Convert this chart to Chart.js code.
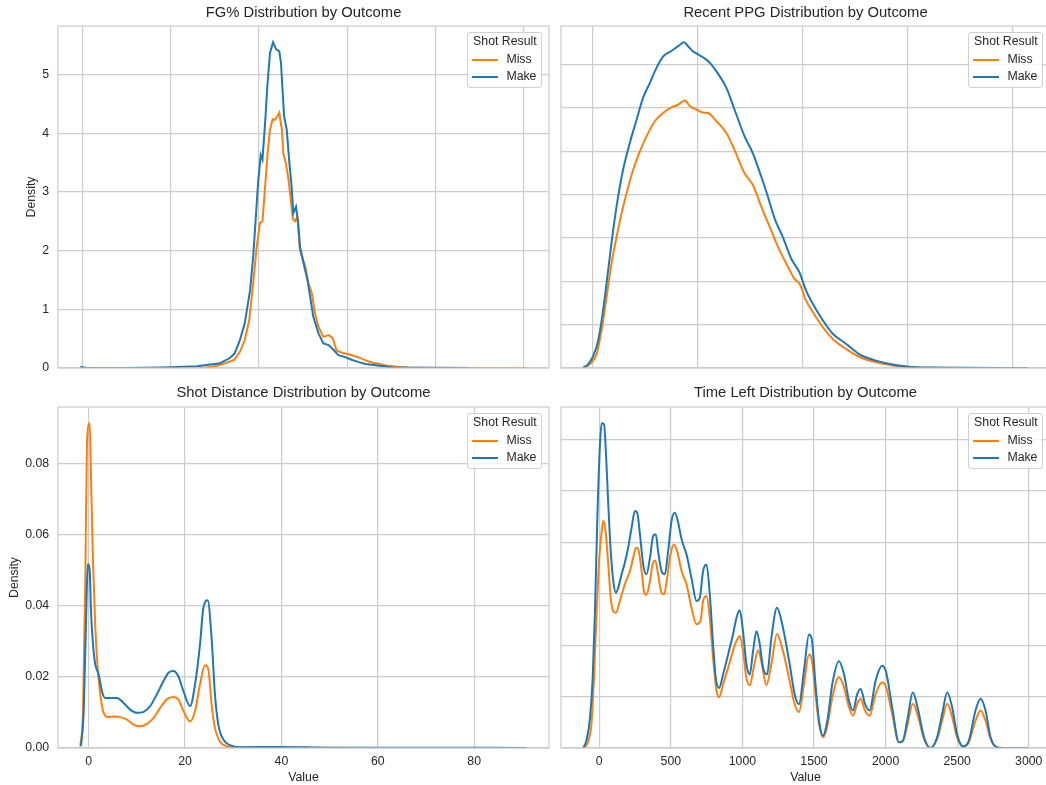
<!DOCTYPE html>
<html>
<head>
<meta charset="utf-8">
<title>Shot distributions by outcome</title>
<script src="https://cdn.jsdelivr.net/npm/chart.js@4.4.1/dist/chart.umd.min.js"></script>
<style>
  html, body { margin: 0; padding: 0; background: #fff; }
  body { width: 1046px; height: 785px; overflow: hidden; position: relative; font-family: "Liberation Sans", Arial, sans-serif; }
  .panel { position: absolute; }
  .panel canvas { display: block; }
  .legend { position: absolute; width: 75px; box-sizing: border-box; padding: 0 0 2px 0; background: rgba(255,255,255,0.8); border: 1px solid #d0d0d0; border-radius: 3px; font-size: 12.3px; color: #262626; }
  .legend .ttl { height: 17.4px; line-height: 17.4px; text-align: center; }
  .legend .row { height: 17.4px; line-height: 17.4px; position: relative; }
  .legend .row i { position: absolute; left: 4px; top: 8px; width: 26px; height: 2px; }
  .legend .row span { position: absolute; left: 38px; }
</style>
</head>
<body>
<script>
// series / legend
const seriesNames = ['Miss', 'Make'];
const seriesColors = ['#ff7f0e', '#1f77b4'];
const legendTitle = 'Shot Result';

// FG% (x = fraction, y = density)
const fgMiss = [[0.266, 0], [0.28, 0.01], [0.30, 0.03], [0.311, 0.05], [0.334, 0.11], [0.345, 0.14], [0.357, 0.28],
  [0.368, 0.48], [0.378, 0.82], [0.387, 1.45], [0.395, 2.07], [0.402, 2.47], [0.408, 2.50], [0.414, 3.09],
  [0.419, 3.61], [0.425, 4.06], [0.431, 4.24], [0.436, 4.23], [0.442, 4.29], [0.446, 4.35], [0.452, 4.06],
  [0.455, 3.66], [0.461, 3.49], [0.467, 3.21], [0.472, 2.87], [0.477, 2.53], [0.482, 2.50], [0.487, 2.58],
  [0.493, 2.01], [0.505, 1.73], [0.512, 1.45], [0.520, 1.27], [0.527, 0.93], [0.535, 0.70], [0.546, 0.53],
  [0.558, 0.56], [0.567, 0.51], [0.576, 0.30], [0.592, 0.25], [0.61, 0.22], [0.626, 0.18], [0.642, 0.13],
  [0.658, 0.09], [0.674, 0.07], [0.69, 0.04], [0.714, 0.02], [0.74, 0.01], [0.8, 0.005], [0.9, 0], [1.007, 0]];
const fgMake = [[-0.005, 0.02], [0.01, 0], [0.1, 0], [0.18, 0.01], [0.23, 0.02], [0.26, 0.03], [0.28, 0.05],
  [0.30, 0.07], [0.311, 0.08], [0.334, 0.17], [0.345, 0.25], [0.357, 0.48], [0.368, 0.77], [0.380, 1.33],
  [0.387, 1.90], [0.393, 2.58], [0.398, 3.15], [0.404, 3.63], [0.408, 3.55], [0.414, 4.18], [0.419, 4.80],
  [0.425, 5.37], [0.432, 5.55], [0.439, 5.43], [0.446, 5.40], [0.450, 5.20], [0.453, 4.80], [0.457, 4.29],
  [0.463, 4.06], [0.469, 3.49], [0.474, 3.09], [0.478, 2.64], [0.484, 2.75], [0.489, 2.47], [0.493, 2.07],
  [0.501, 1.79], [0.510, 1.50], [0.516, 1.22], [0.523, 0.88], [0.535, 0.59], [0.546, 0.42], [0.558, 0.39],
  [0.569, 0.31], [0.580, 0.22], [0.594, 0.19], [0.61, 0.14], [0.626, 0.10], [0.642, 0.07], [0.674, 0.04],
  [0.70, 0.01], [0.75, 0.005], [0.877, 0]];

// Recent PPG
const ppgMiss = [[-0.73, 0.00005], [-0.1, 0.00065], [0.38, 0.0016], [0.85, 0.0043], [1.33, 0.00815], [1.8, 0.01205],
  [2.28, 0.0151], [2.75, 0.0178], [3.23, 0.02015], [3.86, 0.02285], [4.49, 0.02495], [5.13, 0.0267], [5.92, 0.02845],
  [6.7, 0.0294], [7.5, 0.03005], [8.13, 0.03035], [8.77, 0.03085], [9.24, 0.0302], [9.88, 0.0298], [10.5, 0.02945],
  [10.98, 0.0294], [11.78, 0.02845], [12.73, 0.0271], [13.5, 0.02515], [14.46, 0.02245], [15.25, 0.0211],
  [16.05, 0.0186], [16.84, 0.0163], [17.63, 0.014], [18.42, 0.01205], [19.2, 0.0103], [19.69, 0.0097],
  [20.3, 0.0078], [20.95, 0.00645], [21.9, 0.0047], [22.85, 0.00335], [24.1, 0.0022], [25.36, 0.0013],
  [26.97, 0.00065], [28.55, 0.0003], [30.1, 0.0001], [33, 0.000025], [38, 0]];
const ppgMake = [[-0.89, 0.00005], [-0.42, 0.00045], [0.06, 0.0014], [0.53, 0.00315], [1.0, 0.00665], [1.48, 0.01125],
  [1.96, 0.0159], [2.43, 0.01975], [2.9, 0.02285], [3.54, 0.02595], [4.18, 0.0286], [4.8, 0.03115], [5.44, 0.03285],
  [6.08, 0.0346], [6.7, 0.0359], [7.5, 0.03655], [8.13, 0.0371], [8.7, 0.03755], [9.08, 0.0371], [9.5, 0.03655],
  [10.03, 0.03615], [10.66, 0.0357], [11.14, 0.0352], [11.78, 0.0342], [12.73, 0.0323], [13.5, 0.0298],
  [14.46, 0.0267], [15.25, 0.02475], [16.05, 0.02205], [16.68, 0.01975], [17.31, 0.01725], [18.1, 0.0151],
  [18.9, 0.0126], [19.69, 0.011], [20.3, 0.00895], [20.95, 0.0074], [21.9, 0.0055], [22.85, 0.00395],
  [24.1, 0.0028], [25.36, 0.0016], [26.97, 0.00085], [28.55, 0.0004], [30.1, 0.00015], [32.3, 0.00005],
  [35, 0.000025], [41.4, 0]];

// Shot distance
const distMiss = [[-1.74, 0.0005], [-1.18, 0.0104], [-0.70, 0.048], [-0.35, 0.0866], [0.21, 0.0915], [0.48, 0.0762],
  [0.89, 0.0527], [1.37, 0.0339], [1.86, 0.0226], [2.40, 0.0151], [3.1, 0.0099], [4.14, 0.0087], [5.18, 0.0089],
  [6.54, 0.0087], [7.93, 0.008], [9.3, 0.0066], [10.7, 0.0061], [12.07, 0.0068], [13.46, 0.0085], [14.83, 0.0113],
  [16.2, 0.0137], [17.6, 0.0144], [18.6, 0.0137], [19.67, 0.0104], [21.04, 0.0075], [22.07, 0.0104], [23.1, 0.0179],
  [24.14, 0.0233], [24.84, 0.0221], [25.5, 0.0123], [26.2, 0.0056], [27.2, 0.0019], [28.6, 0.0005], [30.0, 0.0001],
  [40, 0.0001], [60, 0], [75, 0]];
const distMake = [[-1.6, 0.0005], [-1.04, 0.0104], [-0.5, 0.0386], [-0.21, 0.0518], [0.21, 0.0499], [0.48, 0.0386],
  [0.89, 0.0292], [1.37, 0.0235], [2.07, 0.0207], [2.75, 0.016], [3.44, 0.0141], [4.47, 0.0141], [5.86, 0.0141],
  [7.25, 0.0127], [8.6, 0.0108], [10.0, 0.0099], [11.4, 0.0102], [12.75, 0.0118], [14.14, 0.0151], [15.5, 0.0188],
  [16.56, 0.0212], [17.6, 0.0217], [18.6, 0.0202], [19.67, 0.016], [21.04, 0.0118], [22.07, 0.0179], [23.1, 0.0292],
  [23.8, 0.0395], [24.7, 0.0416], [25.5, 0.0311], [26.2, 0.0151], [26.9, 0.0066], [27.95, 0.0024], [29.3, 0.0008],
  [31.4, 0.0002], [40, 0.0003], [50, 0.0001], [70, 0.0001], [90.9, 0]];

// Time left (seconds)
const timeMiss = [[-100, 0], [-77, 0.13e-4], [-53, 0.52e-4], [-37, 1.36e-4], [-18, 2.66e-4], [0, 3.70e-4], [17, 4.22e-4],
  [28, 4.42e-4], [44, 4.22e-4], [63, 3.57e-4], [80, 2.92e-4], [98, 2.66e-4], [116, 2.63e-4], [144, 2.86e-4],
  [179, 3.19e-4], [214, 3.44e-4], [237, 3.70e-4], [256, 3.90e-4], [272, 3.87e-4], [296, 3.44e-4], [312, 3.05e-4],
  [330, 2.98e-4], [354, 3.25e-4], [372, 3.57e-4], [391, 3.65e-4], [411, 3.38e-4], [435, 3.02e-4], [453, 2.99e-4],
  [474, 3.31e-4], [498, 3.77e-4], [521, 3.96e-4], [544, 3.83e-4], [575, 3.44e-4], [609, 3.19e-4], [644, 2.73e-4],
  [679, 2.41e-4], [707, 2.47e-4], [725, 2.86e-4], [749, 2.96e-4], [772, 2.53e-4], [795, 1.75e-4], [819, 1.11e-4],
  [837, 0.99e-4], [865, 1.24e-4], [900, 1.56e-4], [934, 1.89e-4], [958, 2.08e-4], [981, 2.18e-4], [1004, 1.89e-4],
  [1028, 1.36e-4], [1051, 1.22e-4], [1079, 1.56e-4], [1109, 1.90e-4], [1132, 1.69e-4], [1167, 1.22e-4],
  [1202, 1.63e-4], [1241, 2.22e-4], [1283, 1.89e-4], [1330, 1.30e-4], [1365, 0.85e-4], [1395, 0.70e-4],
  [1430, 1.25e-4], [1465, 1.82e-4], [1484, 1.73e-4], [1512, 0.99e-4], [1535, 0.47e-4], [1563, 0.21e-4],
  [1593, 0.43e-4], [1628, 0.99e-4], [1674, 1.38e-4], [1709, 1.18e-4], [1744, 0.79e-4], [1772, 0.63e-4],
  [1802, 0.86e-4], [1826, 0.96e-4], [1856, 0.73e-4], [1888, 0.63e-4], [1930, 1.05e-4], [1976, 1.28e-4],
  [2004, 1.18e-4], [2046, 0.66e-4], [2093, 0.11e-4], [2121, 0.14e-4], [2151, 0.43e-4], [2190, 0.86e-4],
  [2228, 0.60e-4], [2268, 0.18e-4], [2314, 0], [2360, 0.18e-4], [2395, 0.53e-4], [2430, 0.86e-4], [2465, 0.60e-4],
  [2499, 0.21e-4], [2540, 0.03e-4], [2581, 0.11e-4], [2628, 0.53e-4], [2663, 0.73e-4], [2698, 0.53e-4],
  [2733, 0.18e-4], [2768, 0.03e-4], [2815, 0], [2993, 0]];
const timeMake = [[-112, 0], [-88, 0.16e-4], [-65, 0.58e-4], [-46, 1.36e-4], [-30, 2.66e-4], [-14, 4.42e-4], [5, 5.91e-4],
  [17, 6.32e-4], [33, 6.30e-4], [47, 5.72e-4], [63, 4.74e-4], [80, 3.83e-4], [98, 3.25e-4], [116, 3.02e-4],
  [133, 3.12e-4], [156, 3.38e-4], [179, 3.61e-4], [202, 3.90e-4], [226, 4.29e-4], [249, 4.61e-4], [265, 4.58e-4],
  [284, 4.16e-4], [307, 3.57e-4], [330, 3.38e-4], [354, 3.70e-4], [377, 4.13e-4], [395, 4.16e-4], [411, 3.83e-4],
  [435, 3.44e-4], [458, 3.38e-4], [481, 3.83e-4], [505, 4.42e-4], [528, 4.58e-4], [551, 4.39e-4], [575, 4.06e-4],
  [609, 3.77e-4], [644, 3.31e-4], [679, 2.86e-4], [702, 2.92e-4], [725, 3.44e-4], [749, 3.57e-4], [772, 2.99e-4],
  [795, 2.02e-4], [814, 1.36e-4], [837, 1.17e-4], [865, 1.43e-4], [900, 1.82e-4], [934, 2.21e-4], [958, 2.53e-4],
  [981, 2.68e-4], [1004, 2.27e-4], [1028, 1.63e-4], [1051, 1.43e-4], [1074, 1.88e-4], [1098, 2.27e-4],
  [1121, 2.02e-4], [1144, 1.56e-4], [1172, 1.43e-4], [1202, 2.14e-4], [1241, 2.73e-4], [1283, 2.34e-4],
  [1330, 1.63e-4], [1365, 1.04e-4], [1395, 0.85e-4], [1430, 1.51e-4], [1465, 2.21e-4], [1484, 2.12e-4],
  [1512, 1.18e-4], [1535, 0.53e-4], [1563, 0.24e-4], [1593, 0.53e-4], [1628, 1.25e-4], [1674, 1.69e-4],
  [1709, 1.44e-4], [1744, 0.92e-4], [1772, 0.73e-4], [1802, 1.05e-4], [1826, 1.15e-4], [1856, 0.86e-4],
  [1888, 0.73e-4], [1930, 1.31e-4], [1976, 1.60e-4], [2004, 1.47e-4], [2046, 0.79e-4], [2093, 0.11e-4],
  [2121, 0.14e-4], [2151, 0.53e-4], [2190, 1.08e-4], [2228, 0.73e-4], [2268, 0.21e-4], [2314, 0], [2360, 0.21e-4],
  [2395, 0.66e-4], [2430, 1.08e-4], [2465, 0.79e-4], [2499, 0.27e-4], [2540, 0.03e-4], [2581, 0.14e-4],
  [2628, 0.73e-4], [2663, 0.96e-4], [2698, 0.73e-4], [2733, 0.21e-4], [2768, 0.03e-4], [2815, 0], [2993, 0]];

// tick values
const fgXTicks = [0, 0.2, 0.4, 0.6, 0.8, 1.0];
const fgYTicks = [0, 1, 2, 3, 4, 5];
const ppgXTicks = [0, 10, 20, 30, 40];
const ppgYTicks = [0, 0.005, 0.01, 0.015, 0.02, 0.025, 0.03, 0.035];
const distXTicks = [0, 20, 40, 60, 80];
const distYTicks = [0, 0.02, 0.04, 0.06, 0.08];
const timeXTicks = [0, 500, 1000, 1500, 2000, 2500, 3000];
const timeYTicks = [0, 1e-4, 2e-4, 3e-4, 4e-4, 5e-4, 6e-4];

const textColor = '#262626';
const gridColor = '#cccccc';
const tickFont = { family: '"Liberation Sans", Arial, sans-serif', size: 12.3 };

// draws the axes frame on top of the lines, like matplotlib spines
const frame = {
  id: 'frame',
  afterDatasetsDraw(chart) {
    const { ctx, chartArea: a } = chart;
    ctx.save();
    ctx.strokeStyle = gridColor;
    ctx.lineWidth = 1.25;
    ctx.strokeRect(a.left, a.top, a.right - a.left, a.bottom - a.top);
    ctx.restore();
  }
};

const panels = [
  { title: 'FG% Distribution by Outcome', miss: fgMiss, make: fgMake, xTicks: fgXTicks, yTicks: fgYTicks,
    left: 0, top: 0, w: 552, h: 380, padRight: 3, showX: false, showY: true, yTitlePad: 24.2, titleBottom: 3.84,
    yFmt: v => String(v), tension: 0 },
  { title: 'Recent PPG Distribution by Outcome', miss: ppgMiss, make: ppgMake, xTicks: ppgXTicks, yTicks: ppgYTicks,
    left: 552, top: 0, w: 500, h: 380, padRight: 2, showX: false, showY: false, titleBottom: 3.84 },
  { title: 'Shot Distance Distribution by Outcome', miss: distMiss, make: distMake, xTicks: distXTicks, yTicks: distYTicks,
    left: 0, top: 380, w: 552, h: 405, padRight: 3, showX: true, showY: true, yTitlePad: 7.2, titleBottom: 4.84,
    yFmt: v => v.toFixed(2) },
  { title: 'Time Left Distribution by Outcome', miss: timeMiss, make: timeMake, xTicks: timeXTicks, yTicks: timeYTicks,
    left: 552, top: 380, w: 500, h: 405, padRight: 2, showX: true, showY: false, titleBottom: 4.84 }
];

function makePanel(p) {
  const box = document.createElement('div');
  box.className = 'panel';
  box.style.left = p.left + 'px';
  box.style.top = p.top + 'px';
  box.style.width = p.w + 'px';
  box.style.height = p.h + 'px';
  const canvas = document.createElement('canvas');
  canvas.width = p.w;
  canvas.height = p.h;
  canvas.style.width = p.w + 'px';
  canvas.style.height = p.h + 'px';
  box.appendChild(canvas);
  document.body.appendChild(box);

  // matplotlib-like limits: 5% x margins, y from 0 with 5% headroom
  const all = p.miss.concat(p.make);
  const xs = all.map(d => d[0]);
  const ys = all.map(d => d[1]);
  const xMin = Math.min(...xs), xMax = Math.max(...xs);
  const xPad = (xMax - xMin) * 0.05;
  const yMax = Math.max(...ys) * 1.05;

  const line = (name, pts, color, order) => ({
    label: name,
    data: pts.map(d => ({ x: d[0], y: d[1] })),
    borderColor: color,
    backgroundColor: color,
    borderWidth: 2,
    pointRadius: 0,
    fill: false,
    order: order,
    tension: p.tension === 0 ? 0 : 0.4,
    cubicInterpolationMode: p.tension === 0 ? 'default' : 'monotone'
  });

  const chart = new Chart(canvas, {
    type: 'line',
    data: {
      datasets: [
        line(seriesNames[0], p.miss, seriesColors[0], 1),
        line(seriesNames[1], p.make, seriesColors[1], 0)
      ]
    },
    options: {
      responsive: false,
      animation: false,
      layout: { padding: { left: 0, right: p.padRight, top: 0, bottom: 0 } },
      plugins: {
        legend: { display: false },
        tooltip: { enabled: false },
        title: {
          display: true, text: p.title, fullSize: false, color: textColor,
          font: { family: tickFont.family, size: 14.8, weight: 'normal' },
          padding: { top: 4.4, bottom: p.titleBottom }
        }
      },
      scales: {
        x: {
          type: 'linear', min: xMin - xPad, max: xMax + xPad,
          afterBuildTicks: a => { a.ticks = p.xTicks.map(v => ({ value: v })); },
          afterFit: a => { a.height = p.showX ? 37 : 12; a.paddingLeft = 0; a.paddingRight = 0; },
          grid: { color: gridColor, lineWidth: 1.2, drawTicks: false },
          border: { display: false },
          ticks: { display: p.showX, padding: 6, color: textColor, font: tickFont, maxRotation: 0, callback: v => String(v) },
          title: { display: p.showX, text: 'Value', color: textColor, font: tickFont, padding: { top: 0, bottom: 0.3 } }
        },
        y: {
          type: 'linear', min: 0, max: yMax,
          afterBuildTicks: a => { a.ticks = p.yTicks.map(v => ({ value: v })); },
          afterFit: a => { a.width = p.showY ? 58 : 9; a.paddingTop = 0; a.paddingBottom = 0; },
          grid: { color: gridColor, lineWidth: 1.2, drawTicks: false },
          border: { display: false },
          ticks: { display: p.showY, padding: 8.8, color: textColor, font: tickFont, callback: p.yFmt || (v => String(v)) },
          title: { display: p.showY, text: 'Density', color: textColor, font: tickFont, padding: { top: p.yTitlePad || 0, bottom: 0 } }
        }
      }
    },
    plugins: [frame]
  });

  // legend box in the upper right corner of the plot area
  const a = chart.chartArea;
  const lg = document.createElement('div');
  lg.className = 'legend';
  lg.style.left = (a.right - 6.6 - 75) + 'px';
  lg.style.top = (a.top + 6.3) + 'px';
  let html = '<div class="ttl">' + legendTitle + '</div>';
  seriesNames.forEach((n, i) => {
    html += '<div class="row"><i style="background:' + seriesColors[i] + '"></i><span>' + n + '</span></div>';
  });
  lg.innerHTML = html;
  box.appendChild(lg);
}

panels.forEach(makePanel);
</script>
</body>
</html>
